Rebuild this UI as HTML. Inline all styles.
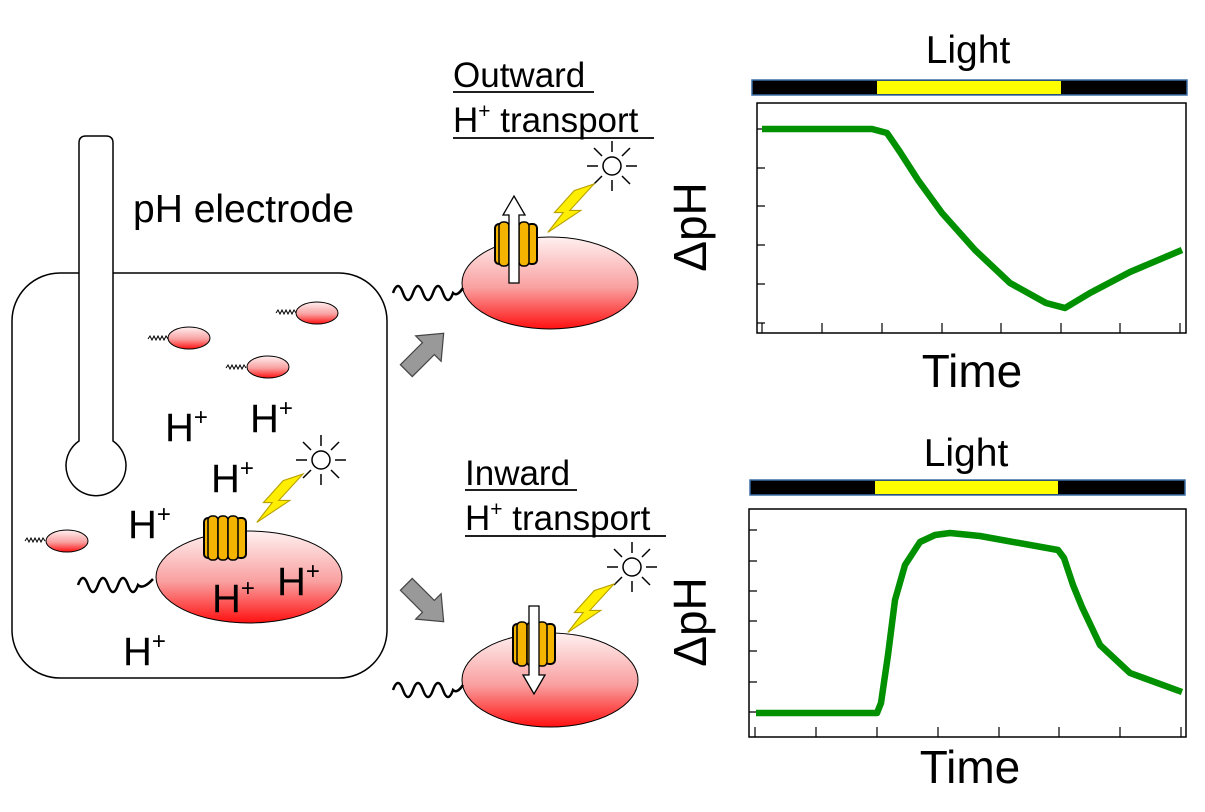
<!DOCTYPE html>
<html><head><meta charset="utf-8"><style>
html,body{margin:0;padding:0;background:#fff;}
svg{display:block;font-family:"Liberation Sans",Arial,sans-serif;}
</style></head><body>
<svg width="1205" height="812" viewBox="0 0 1205 812" xmlns="http://www.w3.org/2000/svg">
<defs>
<linearGradient id="cell" x1="0" y1="0" x2="0" y2="1">
<stop offset="0" stop-color="#fff0f0"/><stop offset="0.55" stop-color="#f9a0a0"/><stop offset="1" stop-color="#ff1010"/>
</linearGradient>
<g id="chan">
<rect x="0" y="4" width="10" height="40" rx="4" fill="#f5b400" stroke="#000" stroke-width="2"/>
<rect x="32" y="4" width="10" height="40" rx="4" fill="#f5b400" stroke="#000" stroke-width="2"/>
<rect x="4" y="2" width="10" height="44" rx="4" fill="#f5b400" stroke="#000" stroke-width="1.5"/>
<rect x="14" y="2" width="10" height="44" rx="4" fill="#f5b400" stroke="#000" stroke-width="1.5"/>
<rect x="24" y="2" width="10" height="44" rx="4" fill="#f5b400" stroke="#000" stroke-width="1.5"/>
</g>
<g id="sun" stroke="#000" stroke-width="1.5" fill="#fff">
<circle cx="0" cy="0" r="9"/>
<path d="M0-14V-25M0 14V25M-14 0H-25M14 0H25M-10-10L-18-18M10 10L18 18M-10 10L-18 18M10-10L18-18" fill="none"/>
</g>
<g id="bolt"><path d="M0 0L-22 24L-12 24L-42 44L-28 26L-36 26L-18 6Z" fill="#ffee00" stroke="#b8a000" stroke-width="1" transform="scale(1.1)"/></g>
</defs>

<!-- beaker -->
<rect x="12" y="273" width="375" height="405" rx="48" fill="#fff" stroke="#000" stroke-width="1.5"/>
<!-- electrode -->
<path d="M79 441V143Q79 136 86 136H106Q113 136 113 143V441A30 30 0 1 1 79 441Z" fill="#fff" stroke="#000" stroke-width="1.5"/>
<text x="133" y="222" font-size="39">pH electrode</text>

<!-- small cells -->
<g stroke="#000" stroke-width="1">
<ellipse cx="189" cy="338" rx="21" ry="11" fill="url(#cell)"/>
<ellipse cx="317" cy="313" rx="21" ry="11" fill="url(#cell)"/>
<ellipse cx="268" cy="367" rx="21" ry="11" fill="url(#cell)"/>
<ellipse cx="67" cy="541" rx="21" ry="11" fill="url(#cell)"/>
</g>
<g fill="none" stroke="#000" stroke-width="1">
<path d="M148 339l2-3l2 4l2-4l2 4l2-4l2 4l2-4l2 4l2-4l2 3"/>
<path d="M276 313l2-3l2 4l2-4l2 4l2-4l2 4l2-4l2 4l2-4l2 3"/>
<path d="M226 368l2-3l2 4l2-4l2 4l2-4l2 4l2-4l2 4l2-4l2 3"/>
<path d="M25 541l2-3l2 4l2-4l2 4l2-4l2 4l2-4l2 4l2-4l2 3"/>
</g>

<!-- big cell -->
<ellipse cx="249" cy="577" rx="93" ry="46" fill="url(#cell)" stroke="#000" stroke-width="1"/>
<path d="M78 585q5-14 10 0t10 0t10 0t10 0t10 0t10 0q5 5 15-6" fill="none" stroke="#000" stroke-width="2.5"/>
<use href="#chan" x="204" y="514"/>
<use href="#sun" x="321" y="460"/>
<use href="#bolt" x="303" y="474"/>

<g font-size="40">
<text x="165" y="441">H<tspan font-size="24" dy="-16">+</tspan></text>
<text x="250" y="432">H<tspan font-size="24" dy="-16">+</tspan></text>
<text x="211" y="492">H<tspan font-size="24" dy="-16">+</tspan></text>
<text x="128" y="538">H<tspan font-size="24" dy="-16">+</tspan></text>
<text x="277" y="595">H<tspan font-size="24" dy="-16">+</tspan></text>
<text x="212" y="612">H<tspan font-size="24" dy="-16">+</tspan></text>
<text x="123" y="665">H<tspan font-size="24" dy="-16">+</tspan></text>
</g>

<!-- gray arrows -->
<g transform="translate(425,352) rotate(-45) scale(1.2)"><path d="M-22-7H4V-15L22 0L4 15V7H-22Z" fill="#999" stroke="#444" stroke-width="1"/></g>
<g transform="translate(425,603) rotate(45) scale(1.2)"><path d="M-22-7H4V-15L22 0L4 15V7H-22Z" fill="#999" stroke="#444" stroke-width="1"/></g>

<!-- upper membrane -->
<g font-size="35">
<text x="453" y="87">Outward</text>
<line x1="453" y1="92" x2="594" y2="92" stroke="#000" stroke-width="1.8"/>
<text x="453" y="132">H<tspan font-size="21" dy="-14">+</tspan><tspan dy="14"> transport</tspan></text>
<line x1="453" y1="138" x2="654" y2="138" stroke="#000" stroke-width="1.8"/>
</g>
<ellipse cx="550" cy="283" rx="88" ry="46" fill="url(#cell)" stroke="#000" stroke-width="1"/>
<path d="M393 293q5-14 10 0t10 0t10 0t10 0t10 0t10 0q4 4 10-5" fill="none" stroke="#000" stroke-width="2.5"/>
<use href="#chan" x="495" y="220"/>
<path d="M509 283V215H503L514 196L525 215H519V283Z" fill="#fff" stroke="#000" stroke-width="1.3"/>
<use href="#sun" x="612" y="166"/>
<use href="#bolt" x="594" y="184"/>

<!-- lower membrane -->
<g font-size="35">
<text x="465" y="485">Inward</text>
<line x1="465" y1="490" x2="577" y2="490" stroke="#000" stroke-width="1.8"/>
<text x="465" y="530">H<tspan font-size="21" dy="-14">+</tspan><tspan dy="14"> transport</tspan></text>
<line x1="465" y1="536" x2="666" y2="536" stroke="#000" stroke-width="1.8"/>
</g>
<ellipse cx="550" cy="680" rx="88" ry="47" fill="url(#cell)" stroke="#000" stroke-width="1"/>
<path d="M393 690q5-14 10 0t10 0t10 0t10 0t10 0t10 0q4 4 10-5" fill="none" stroke="#000" stroke-width="2.5"/>
<use href="#chan" x="513" y="620"/>
<path d="M529 606V675H523L534 694L545 675H539V606Z" fill="#fff" stroke="#000" stroke-width="1.3"/>
<use href="#sun" x="632" y="567"/>
<use href="#bolt" x="614" y="584"/>

<!-- plot 1 -->
<text x="968" y="63" font-size="39" text-anchor="middle">Light</text>
<rect x="752" y="80" width="435" height="15" fill="#000" stroke="#3a6ea5" stroke-width="1.5"/>
<rect x="877" y="81" width="184" height="13" fill="#ffff00"/>
<rect x="757" y="103" width="429" height="230" fill="none" stroke="#000" stroke-width="1.5"/>
<g stroke="#000" stroke-width="1.2">
<path d="M757 129h8M757 168h8M757 206h8M757 245h8M757 284h8M757 323h8"/>
<path d="M762 333v-10M822 333v-10M882 333v-10M942 333v-10M1001 333v-10M1061 333v-10M1120 333v-10M1180 333v-10"/>
</g>
<polyline points="762,129 872,129 887,133 900,152 918,180 942,213 975,250 1010,283 1046,303 1065,308 1090,293 1130,272 1182,250" fill="none" stroke="#009000" stroke-width="6.5" stroke-linejoin="round"/>
<text transform="translate(706,227) rotate(-90)" font-size="46" text-anchor="middle">ΔpH</text>
<text x="972" y="387" font-size="46" text-anchor="middle">Time</text>

<!-- plot 2 -->
<text x="966" y="466" font-size="39" text-anchor="middle">Light</text>
<rect x="750" y="480" width="435" height="15" fill="#000" stroke="#3a6ea5" stroke-width="1.5"/>
<rect x="875" y="481" width="183" height="13" fill="#ffff00"/>
<rect x="749" y="509" width="437" height="228" fill="none" stroke="#000" stroke-width="1.5"/>
<g stroke="#000" stroke-width="1.2">
<path d="M749 530h8M749 561h8M749 591h8M749 621h8M749 651h8M749 682h8M749 712h8"/>
<path d="M755 737v-10M816 737v-10M877 737v-10M938 737v-10M999 737v-10M1059 737v-10M1120 737v-10M1181 737v-10"/>
</g>
<polyline points="756,713 877,713 881,703 888,655 895,600 905,565 920,542 935,535 950,533 980,536 1058,550 1064,558 1073,585 1082,607 1100,645 1130,673 1182,692" fill="none" stroke="#009000" stroke-width="6.5" stroke-linejoin="round"/>
<text transform="translate(706,622) rotate(-90)" font-size="46" text-anchor="middle">ΔpH</text>
<text x="970" y="783" font-size="46" text-anchor="middle">Time</text>
</svg>
</body></html>
